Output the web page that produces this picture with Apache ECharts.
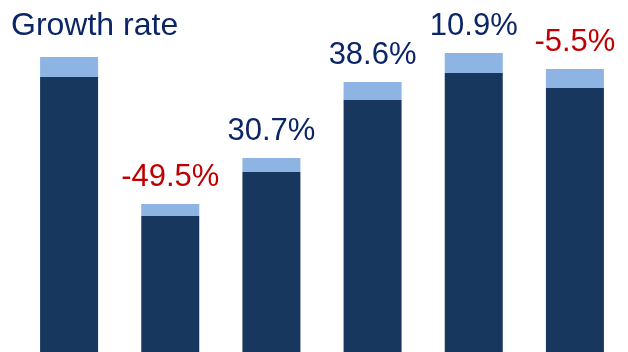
<!DOCTYPE html>
<html>
<head>
<meta charset="utf-8">
<script src="https://cdn.jsdelivr.net/npm/echarts@6/dist/echarts.min.js"></script>
<style>
html,body{margin:0;padding:0;background:#fff;}
#chart{width:628px;height:352px;}
</style>
</head>
<body>
<div id="chart"></div>
<script>
const categories = ['P1', 'P2', 'P3', 'P4', 'P5', 'P6'];
const baseValues = [275, 136, 180, 252, 279, 264];
const topValues = [20, 12, 14, 18, 20, 19];
const growthLabels = ['', '-49.5%', '30.7%', '38.6%', '10.9%', '-5.5%'];

const chart = echarts.init(document.getElementById('chart'), null, {renderer: 'canvas'});
chart.setOption({
  animation: false,
  backgroundColor: '#ffffff',
  title: {
    text: 'Growth rate',
    left: 11,
    top: 10,
    padding: 0,
    textStyle: {
      fontFamily: 'Liberation Sans, Arial, sans-serif',
      fontSize: 32,
      fontWeight: 'normal',
      color: '#0b2566'
    }
  },
  grid: {left: 18.5, right: 2.5, top: 0, bottom: 0, containLabel: false},
  xAxis: {
    type: 'category',
    data: categories,
    axisLine: {show: false},
    axisTick: {show: false},
    axisLabel: {show: false},
    splitLine: {show: false}
  },
  yAxis: {
    type: 'value',
    min: 0,
    max: 352,
    show: false,
    splitLine: {show: false}
  },
  series: [
    {
      type: 'bar',
      stack: 'total',
      data: baseValues,
      barWidth: 58,
      itemStyle: {color: '#17375e'}
    },
    {
      type: 'bar',
      stack: 'total',
      data: topValues,
      barWidth: 58,
      itemStyle: {color: '#8db4e2'},
      label: {
        show: true,
        position: 'top',
        distance: 11,
        fontFamily: 'Liberation Sans, Arial, sans-serif',
        fontSize: 31,
        formatter: function (p) {
          const t = growthLabels[p.dataIndex];
          if (!t) return '';
          return t.charAt(0) === '-' ? '{neg|' + t + '}' : '{pos|' + t + '}';
        },
        rich: {
          neg: {color: '#c00000', fontSize: 31, fontFamily: 'Liberation Sans, Arial, sans-serif'},
          pos: {color: '#0b2566', fontSize: 31, fontFamily: 'Liberation Sans, Arial, sans-serif'}
        }
      }
    }
  ]
});
</script>
</body>
</html>
